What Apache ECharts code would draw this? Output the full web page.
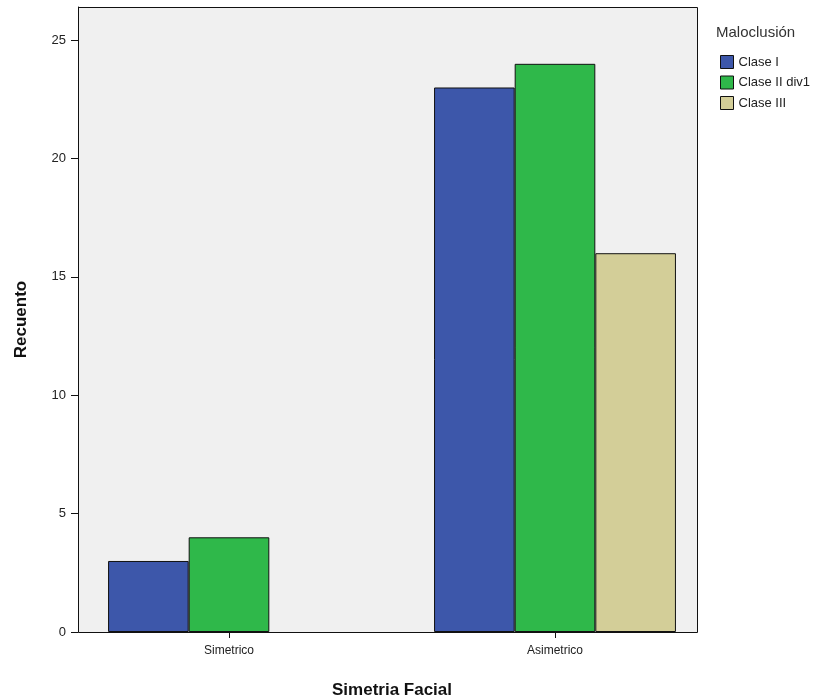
<!DOCTYPE html>
<html><head><meta charset="utf-8">
<script src="https://cdn.jsdelivr.net/npm/echarts@6/dist/echarts.min.js"></script>
<style>html,body{margin:0;padding:0;background:#fff}#c{width:823px;height:700px}</style>
</head><body><div id="c"></div>
<script>
const categories = ["Simetrico", "Asimetrico"];
const seriesNames = ["Clase I", "Clase II div1", "Clase III"];
const claseI = [3, 23];
const claseIIdiv1 = [4, 24];
const claseIII = [null, 16];
const yTicks = [0, 5, 10, 15, 20, 25];
const colors = ["#3d57aa", "#2fb84a", "#d3ce98"];

const chart = echarts.init(document.getElementById('c'));
const font = '"Liberation Sans", Arial, sans-serif';
const data = [claseI, claseIIdiv1, claseIII];
chart.setOption({
  animation: false,
  textStyle: { fontFamily: font },
  title: { text: 'Maloclusión', left: 711, top: 20, textStyle: { fontSize: 15, fontWeight: 'normal', color: '#333', fontFamily: font } },
  legend: {
    orient: 'vertical', left: 715, top: 50, itemWidth: 13, itemHeight: 13, itemGap: 6.5,
    icon: 'rect', itemTextGap: 3,
    itemStyle: { borderWidth: 1, borderColor: '#111' },
    textStyle: { fontSize: 13, color: '#222', fontFamily: font },
    data: seriesNames
  },
  graphic: [{
    type: 'rect', z: -10, silent: true,
    shape: { x: 78.5, y: 7.5, width: 619, height: 625 },
    style: { fill: '#f0f0f0', stroke: '#111', lineWidth: 1 }
  }],
  grid: { left: 66, right: 105, top: 7, bottom: 68, show: false, outerBoundsMode: 'none', containLabel: false },
  xAxis: {
    type: 'category', data: categories,
    axisLine: { show: false },
    axisTick: { show: true, alignWithLabel: true, length: 6, lineStyle: { color: '#111' } },
    axisLabel: { fontSize: 12, color: '#222', margin: 13, fontFamily: font },
    name: 'Simetria Facial', nameLocation: 'middle', nameGap: 50,
    nameTextStyle: { fontSize: 17, fontWeight: 'bold', color: '#111', fontFamily: font }
  },
  yAxis: {
    type: 'value', min: 0, max: 26.4, offset: -12,
    axisLine: { show: true, lineStyle: { color: '#111' } },
    axisTick: { show: true, length: 7, customValues: yTicks, lineStyle: { color: '#111' } },
    axisLabel: { customValues: yTicks, fontSize: 13, color: '#222', margin: 12, fontFamily: font },
    splitLine: { show: false },
    name: 'Recuento', nameLocation: 'middle', nameGap: 48,
    nameTextStyle: { fontSize: 17, fontWeight: 'bold', color: '#111', fontFamily: font }
  },
  series: seriesNames.map((n, i) => ({
    name: n, type: 'bar', data: data[i],
    barGap: '0%', barCategoryGap: '25.8%',
    itemStyle: { color: colors[i], borderColor: '#111', borderWidth: 1 }
  }))
});
</script></body></html>
